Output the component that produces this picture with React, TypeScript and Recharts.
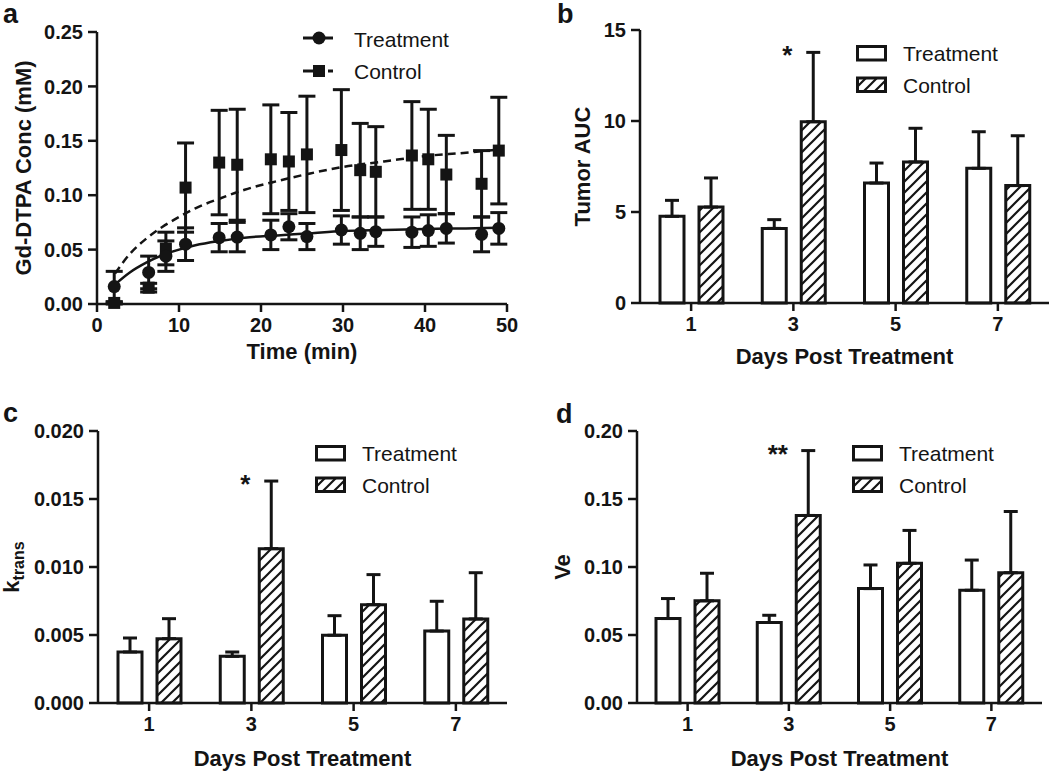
import React from 'react';
import {
  ComposedChart,
  BarChart,
  Bar,
  Line,
  Scatter,
  XAxis,
  YAxis,
  ErrorBar,
  Legend,
  ReferenceDot,
} from 'recharts';

const FONT = '"Liberation Sans", Arial, Helvetica, sans-serif';
const INK = '#141414';

// ---------------- Panel a : Gd-DTPA concentration vs time ----------------
const seriesNames = ['Treatment', 'Control'];
const timeTicks = [0, 10, 20, 30, 40, 50];
const concTicks = [0, 0.05, 0.1, 0.15, 0.2, 0.25];
const sampleTimes = [2.1, 6.3, 8.4, 10.8, 14.9, 17.1, 21.2, 23.4, 25.6, 29.8, 32.1, 34.0, 38.4, 40.4, 42.6, 46.9, 49.0];
const treatConc = [0.016, 0.029, 0.044, 0.055, 0.061, 0.0615, 0.0635, 0.071, 0.062, 0.068, 0.065, 0.0665, 0.066, 0.0675, 0.0695, 0.064, 0.0695];
const treatSem = [0.014, 0.015, 0.014, 0.015, 0.013, 0.0135, 0.0135, 0.012, 0.012, 0.013, 0.015, 0.0135, 0.014, 0.0145, 0.0135, 0.016, 0.0145];
const ctrlConc = [0.001, 0.015, 0.051, 0.107, 0.130, 0.128, 0.133, 0.131, 0.1375, 0.1415, 0.123, 0.1215, 0.1365, 0.133, 0.119, 0.1105, 0.141];
const ctrlSem = [0.001, 0.004, 0.015, 0.041, 0.048, 0.051, 0.050, 0.045, 0.0535, 0.0555, 0.043, 0.0415, 0.0495, 0.046, 0.036, 0.0305, 0.049];
const fitTimes = [2.2, 4, 6, 8, 10, 12, 15, 18, 22, 26, 30, 35, 40, 45, 49];
const treatFit = [0.018, 0.029, 0.038, 0.045, 0.050, 0.054, 0.058, 0.061, 0.063, 0.065, 0.067, 0.068, 0.069, 0.0695, 0.070];
const ctrlFit = [0.028, 0.046, 0.060, 0.071, 0.080, 0.088, 0.097, 0.105, 0.113, 0.120, 0.126, 0.131, 0.136, 0.139, 0.142];

// ---------------- Panels b, c, d : bar charts ----------------
const dayLabels = ['1', '3', '5', '7'];

const aucTicks = [0, 5, 10, 15];
const aucTreat = [4.76, 4.10, 6.59, 7.40];
const aucTreatErr = [0.88, 0.48, 1.10, 2.01];
const aucCtrl = [5.27, 9.96, 7.75, 6.45];
const aucCtrlErr = [1.60, 3.81, 1.85, 2.74];
const aucSig = ['', '*', '', ''];

const ktransTicks = [0, 0.005, 0.01, 0.015, 0.02];
const ktransTreat = [0.00375, 0.00343, 0.00498, 0.00529];
const ktransTreatErr = [0.00103, 0.00032, 0.00144, 0.00219];
const ktransCtrl = [0.00473, 0.01135, 0.00723, 0.00618];
const ktransCtrlErr = [0.00147, 0.00497, 0.00221, 0.0034];
const ktransSig = ['', '*', '', ''];

const veTicks = [0, 0.05, 0.1, 0.15, 0.2];
const veTreat = [0.0621, 0.0592, 0.0841, 0.0829];
const veTreatErr = [0.0147, 0.0053, 0.0174, 0.0222];
const veCtrl = [0.0751, 0.1379, 0.1027, 0.0958];
const veCtrlErr = [0.0203, 0.0477, 0.0242, 0.045];
const veSig = ['', '**', '', ''];

// ---------------- helpers ----------------
const tickStyle = { fill: INK, fontSize: 20, fontWeight: 700, fontFamily: FONT };
const titleStyle: React.CSSProperties = { fill: INK, fontSize: 22, fontWeight: 700, fontFamily: FONT };
const axisLine = { stroke: INK, strokeWidth: 2.5 };

const pts = (ys: number[], es: number[]) => sampleTimes.map((t, i) => ({ t, y: ys[i], e: es[i] }));
const fit = (ys: number[]) => fitTimes.map((t, i) => ({ t, y: ys[i] }));

const rowsOf = (t: number[], te: number[], c: number[], ce: number[]) =>
  dayLabels.map((d, i) => ({ day: d, t: t[i], te: [0, te[i]], c: c[i], ce: [0, ce[i]] }));

const xTitle = (text: string, fromBottom: number) => (props: any) => {
  const vb = props && props.viewBox ? props.viewBox : { x: 0, y: 0, width: 0, height: 0 };
  return (
    <text x={vb.x + vb.width / 2} y={vb.y + vb.height - fromBottom} textAnchor="middle" style={titleStyle}>
      {text}
    </text>
  );
};

const yTitle = (baselineX: number, content: React.ReactNode) => (props: any) => {
  const vb = props && props.viewBox ? props.viewBox : { x: 0, y: 0, width: 0, height: 0 };
  const cy = vb.y + vb.height / 2;
  return (
    <text x={baselineX} y={cy} transform={`rotate(-90 ${baselineX} ${cy})`} textAnchor="middle" style={titleStyle}>
      {content}
    </text>
  );
};

const CircleMark = (p: any) => <circle cx={p.cx} cy={p.cy} r={6.5} fill={INK} />;
const SquareMark = (p: any) => <rect x={p.cx - 6} y={p.cy - 6} width={12} height={12} fill={INK} />;

function ScatterLegendGraphic() {
  return (
    <svg width={170} height={66} style={{ display: 'block', overflow: 'visible' }}>
      <line x1={8} y1={18} x2={38} y2={18} stroke={INK} strokeWidth={3} />
      <circle cx={24} cy={18} r={6.5} fill={INK} />
      <text x={59} y={26.5} fontSize={21} fontFamily={FONT} fill={INK}>{seriesNames[0]}</text>
      <line x1={8} y1={51} x2={20} y2={51} stroke={INK} strokeWidth={3} />
      <rect x={18} y={45} width={12} height={12} fill={INK} />
      <line x1={33} y1={51} x2={38} y2={51} stroke={INK} strokeWidth={3} />
      <text x={59} y={59} fontSize={21} fontFamily={FONT} fill={INK}>{seriesNames[1]}</text>
    </svg>
  );
}

function BarLegendGraphic({ hatchId }: { hatchId: string }) {
  return (
    <svg width={180} height={56} style={{ display: 'block', overflow: 'visible' }}>
      <rect x={1.5} y={2.5} width={28} height={13.5} fill="#fff" stroke={INK} strokeWidth={3} />
      <text x={47} y={17} fontSize={21} fontFamily={FONT} fill={INK}>{seriesNames[0]}</text>
      <rect x={1.5} y={34} width={28} height={13.5} fill={`url(#${hatchId})`} stroke={INK} strokeWidth={3} />
      <text x={47} y={48.5} fontSize={21} fontFamily={FONT} fill={INK}>{seriesNames[1]}</text>
    </svg>
  );
}

function Hatch({ id }: { id: string }) {
  return (
    <defs>
      <pattern id={id} patternUnits="userSpaceOnUse" width={11} height={11}>
        <rect x={0} y={0} width={11} height={11} fill="#fff" />
        <path d="M0,11 L11,0 M-3,3 L3,-3 M8,14 L14,8" stroke={INK} strokeWidth={2.2} />
      </pattern>
    </defs>
  );
}

type BarPanelProps = {
  left: number;
  top: number;
  height: number;
  marginTop: number;
  marginRight: number;
  yWidth: number;
  xHeight: number;
  rows: any[];
  yTicks: number[];
  yFormat: (v: number) => string;
  yTitleNode: React.ReactNode;
  yTitleX: number;
  xTitleFromBottom: number;
  legendLeft: number;
  legendTop: number;
  hatchId: string;
  sig: string[];
};

function BarPanel(p: BarPanelProps) {
  const yMax = p.yTicks[p.yTicks.length - 1];
  return (
    <div style={{ position: 'absolute', left: p.left, top: p.top }}>
      <BarChart
        width={525}
        height={p.height}
        data={p.rows}
        margin={{ top: p.marginTop, right: p.marginRight, bottom: 0, left: 0 }}
        barGap={15}
      >
        <Hatch id={p.hatchId} />
        <XAxis
          dataKey="day"
          type="category"
          height={p.xHeight}
          axisLine={axisLine}
          tickLine={axisLine}
          tickSize={8}
          tickMargin={6}
          tick={tickStyle}
          interval={0}
          label={xTitle('Days Post Treatment', p.xTitleFromBottom)}
        />
        <YAxis
          type="number"
          domain={[0, yMax]}
          ticks={p.yTicks}
          interval={0}
          width={p.yWidth}
          axisLine={axisLine}
          tickLine={axisLine}
          tickSize={9}
          tickMargin={5}
          tick={tickStyle}
          tickFormatter={p.yFormat}
          label={yTitle(p.yTitleX, p.yTitleNode)}
        />
        <Bar dataKey="t" name={seriesNames[0]} fill="#fff" stroke={INK} strokeWidth={3} barSize={24} isAnimationActive={false}>
          <ErrorBar dataKey="te" direction="y" width={7} stroke={INK} strokeWidth={3} />
        </Bar>
        <Bar dataKey="c" name={seriesNames[1]} fill={`url(#${p.hatchId})`} stroke={INK} strokeWidth={3} barSize={24} isAnimationActive={false}>
          <ErrorBar dataKey="ce" direction="y" width={7} stroke={INK} strokeWidth={3} />
        </Bar>
        {p.rows.map((r, i) =>
          p.sig[i] ? (
            <ReferenceDot
              key={'sig' + i}
              x={r.day}
              y={r.c + r.ce[1]}
              r={1}
              shape={(sp: any) => (
                <text x={sp.cx - 1} y={sp.cy + 12} textAnchor="end" fontSize={26} fontFamily={FONT} fontWeight={700} fill={INK}>
                  {p.sig[i]}
                </text>
              )}
            />
          ) : null
        )}
        <Legend
          layout="vertical"
          align="center"
          verticalAlign="middle"
          wrapperStyle={{ position: 'absolute', left: p.legendLeft, top: p.legendTop, width: 180, height: 56 }}
          content={() => <BarLegendGraphic hatchId={p.hatchId} />}
        />
      </BarChart>
    </div>
  );
}

export default function App() {
  return (
    <div style={{ position: 'absolute', left: 0, top: 0, width: 1050, height: 772, background: '#fff', overflow: 'hidden' }}>
      {/* Panel a */}
      <div style={{ position: 'absolute', left: 0, top: 0 }}>
        <ComposedChart width={525} height={380} margin={{ top: 32, right: 18, bottom: 0, left: 0 }}>
          <XAxis
            type="number"
            dataKey="t"
            domain={[0, 50]}
            ticks={timeTicks}
            interval={0}
            height={76}
            axisLine={axisLine}
            tickLine={axisLine}
            tickSize={8}
            tickMargin={6}
            tick={tickStyle}
            label={xTitle('Time (min)', 21)}
          />
          <YAxis
            type="number"
            domain={[0, 0.25]}
            ticks={concTicks}
            interval={0}
            width={97}
            axisLine={axisLine}
            tickLine={axisLine}
            tickSize={9}
            tickMargin={5}
            tick={tickStyle}
            tickFormatter={(v: number) => v.toFixed(2)}
            label={yTitle(31, 'Gd-DTPA Conc (mM)')}
          />
          <Line data={fit(treatFit)} dataKey="y" type="monotone" stroke={INK} strokeWidth={2.5} dot={false} activeDot={false} isAnimationActive={false} />
          <Line data={fit(ctrlFit)} dataKey="y" type="monotone" stroke={INK} strokeWidth={2.5} strokeDasharray="8 5" dot={false} activeDot={false} isAnimationActive={false} />
          <Scatter data={pts(ctrlConc, ctrlSem)} dataKey="y" name={seriesNames[1]} shape={SquareMark} isAnimationActive={false}>
            <ErrorBar dataKey="e" direction="y" width={8.5} stroke={INK} strokeWidth={3} />
          </Scatter>
          <Scatter data={pts(treatConc, treatSem)} dataKey="y" name={seriesNames[0]} shape={CircleMark} isAnimationActive={false}>
            <ErrorBar dataKey="e" direction="y" width={8.5} stroke={INK} strokeWidth={3} />
          </Scatter>
          <Legend
            layout="vertical"
            align="center"
            verticalAlign="middle"
            wrapperStyle={{ position: 'absolute', left: 295, top: 20, width: 170, height: 66 }}
            content={() => <ScatterLegendGraphic />}
          />
        </ComposedChart>
      </div>

      {/* Panel b */}
      <BarPanel
        left={525}
        top={0}
        height={380}
        marginTop={30}
        marginRight={1}
        yWidth={115}
        xHeight={77}
        rows={rowsOf(aucTreat, aucTreatErr, aucCtrl, aucCtrlErr)}
        yTicks={aucTicks}
        yFormat={(v) => String(v)}
        yTitleNode="Tumor AUC"
        yTitleX={65}
        xTitleFromBottom={16}
        legendLeft={331}
        legendTop={44}
        hatchId="hatchB"
        sig={aucSig}
      />

      {/* Panel c */}
      <BarPanel
        left={0}
        top={380}
        height={392}
        marginTop={51}
        marginRight={18}
        yWidth={98}
        xHeight={69}
        rows={rowsOf(ktransTreat, ktransTreatErr, ktransCtrl, ktransCtrlErr)}
        yTicks={ktransTicks}
        yFormat={(v) => v.toFixed(3)}
        yTitleNode={[
          <tspan key="k">k</tspan>,
          <tspan key="s" dy={5} fontSize={16}>trans</tspan>,
        ]}
        yTitleX={19}
        xTitleFromBottom={6}
        legendLeft={315}
        legendTop={64}
        hatchId="hatchC"
        sig={ktransSig}
      />

      {/* Panel d */}
      <BarPanel
        left={525}
        top={380}
        height={392}
        marginTop={51}
        marginRight={8}
        yWidth={112}
        xHeight={69}
        rows={rowsOf(veTreat, veTreatErr, veCtrl, veCtrlErr)}
        yTicks={veTicks}
        yFormat={(v) => v.toFixed(2)}
        yTitleNode="Ve"
        yTitleX={45}
        xTitleFromBottom={6}
        legendLeft={327}
        legendTop={64}
        hatchId="hatchD"
        sig={veSig}
      />

      {/* Panel letters */}
      <svg width={1050} height={772} style={{ position: 'absolute', left: 0, top: 0, pointerEvents: 'none' }}>
        <text x={3} y={23} fontSize={27} fontWeight={700} fontFamily={FONT} fill={INK}>a</text>
        <text x={557} y={23} fontSize={27} fontWeight={700} fontFamily={FONT} fill={INK}>b</text>
        <text x={3} y={422} fontSize={27} fontWeight={700} fontFamily={FONT} fill={INK}>c</text>
        <text x={556} y={423} fontSize={27} fontWeight={700} fontFamily={FONT} fill={INK}>d</text>
      </svg>
    </div>
  );
}
